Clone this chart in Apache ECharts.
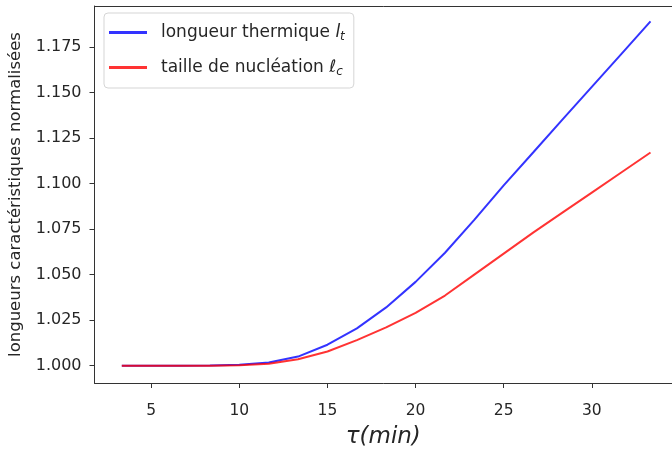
<!DOCTYPE html>
<html lang="fr">
<head>
    <meta charset="UTF-8">
    <title>Longueurs caractéristiques normalisées</title>
    <script src="https://cdn.jsdelivr.net/npm/echarts@6/dist/echarts.min.js"></script>
    <style>
        html, body { margin: 0; padding: 0; background: #fff; }
    </style>
</head>
<body>
    <div id="chart" style="width: 672px; height: 450px;"></div>

    <script>
        // temps en minutes
        var tau = [3.33, 5.00, 6.67, 8.33, 10.00, 11.67, 13.33, 15.00, 16.67, 18.33,
                   20.00, 21.67, 23.33, 25.00, 26.67, 28.33, 30.00, 31.67, 33.33];
        var longueurThermique = [1.0000, 1.0000, 1.0000, 1.0001, 1.0005, 1.0017, 1.0050, 1.0115, 1.0205, 1.0320,
                                 1.0460, 1.0620, 1.0800, 1.0990, 1.1170, 1.1350, 1.1530, 1.1710, 1.1890];
        var tailleNucleation = [1.0000, 1.0000, 1.0000, 1.0000, 1.0003, 1.0011, 1.0035, 1.0078, 1.0140, 1.0210,
                                1.0290, 1.0385, 1.0500, 1.0615, 1.0730, 1.0840, 1.0950, 1.1060, 1.1170];
        var xTicks = [5, 10, 15, 20, 25, 30];
        var yTicks = [1.000, 1.025, 1.050, 1.075, 1.100, 1.125, 1.150, 1.175];

        function paires(xs, ys) {
            var out = [];
            for (var i = 0; i < xs.length; i++) {
                out.push([xs[i], ys[i]]);
            }
            return out;
        }

        var chart = echarts.init(document.getElementById('chart'));
        var police = 'DejaVu Sans';
        var encre = '#262626';

        chart.setOption({
            animation: false,
            grid: { left: 94.5, right: 0, top: 6, bottom: 67, outerBoundsMode: 'none', containLabel: false },
            legend: {
                left: 104,
                top: 13,
                orient: 'vertical',
                backgroundColor: 'rgba(255,255,255,0.8)',
                borderColor: '#d5d5d5',
                borderWidth: 1,
                borderRadius: 4,
                padding: [11, 9, 10, 5],
                itemWidth: 38,
                itemHeight: 3,
                itemGap: 16,
                icon: 'path://M0,0 L40,0 L40,3 L0,3 Z',
                textStyle: {
                    color: encre,
                    fontFamily: police,
                    fontSize: 17,
                    padding: [0, 0, 0, 9],
                    rich: {
                        i: { fontFamily: police, fontStyle: 'italic', fontSize: 17, color: encre },
                        s: { fontFamily: police, fontStyle: 'italic', fontSize: 12, color: encre, padding: [9, 0, 0, 0] }
                    }
                },
                formatter: function (nom) {
                    if (nom === 'thermique') {
                        return 'longueur thermique {i|l}{s|t}';
                    }
                    return 'taille de nucléation {i|ℓ}{s|c}';
                }
            },
            xAxis: [{
                type: 'value',
                min: 1.78,
                max: 34.55,
                name: 'τ(min)',
                nameLocation: 'middle',
                nameGap: 43,
                nameTextStyle: { fontFamily: police, fontStyle: 'italic', fontSize: 23, color: encre },
                axisLine: { show: true, lineStyle: { color: '#333', width: 1 } },
                axisTick: { show: true, length: 5, customValues: xTicks, lineStyle: { color: '#333' } },
                axisLabel: { color: encre, fontFamily: police, fontSize: 15.5, margin: 20, customValues: xTicks },
                splitLine: { show: false }
            }, {
                type: 'value',
                position: 'top',
                min: 1.78,
                max: 34.55,
                axisLine: { show: true, lineStyle: { color: '#333', width: 1 } },
                axisTick: { show: false },
                axisLabel: { show: false },
                splitLine: { show: false }
            }],
            yAxis: {
                type: 'value',
                min: 0.9905,
                max: 1.1974,
                name: 'longueurs caractéristiques normalisées',
                nameLocation: 'middle',
                nameGap: 70,
                nameTextStyle: { fontFamily: police, fontSize: 16.5, color: encre },
                axisLine: { show: true, lineStyle: { color: '#333', width: 1 } },
                axisTick: { show: true, length: 5, customValues: yTicks, lineStyle: { color: '#333' } },
                axisLabel: {
                    color: encre, fontFamily: police, fontSize: 16, margin: 13,
                    customValues: yTicks,
                    formatter: function (v) { return v.toFixed(3); }
                },
                splitLine: { show: false }
            },
            series: [{
                name: 'thermique',
                type: 'line',
                data: paires(tau, longueurThermique),
                showSymbol: false,
                symbol: 'none',
                lineStyle: { color: '#0000ff', width: 2, opacity: 0.8 },
                itemStyle: { color: '#0000ff', opacity: 0.8 }
            }, {
                name: 'nucleation',
                type: 'line',
                data: paires(tau, tailleNucleation),
                showSymbol: false,
                symbol: 'none',
                lineStyle: { color: '#ff0000', width: 2, opacity: 0.8 },
                itemStyle: { color: '#ff0000', opacity: 0.8 }
            }]
        });
    </script>
</body>
</html>
